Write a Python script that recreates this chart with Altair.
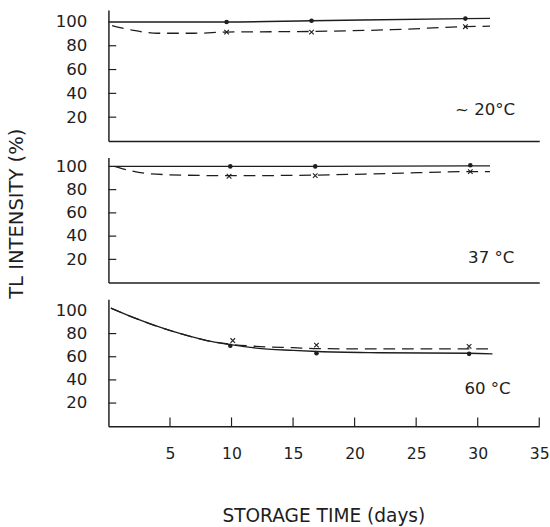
import altair as alt
import pandas as pd

# ---------------- data ----------------
X_TICKS = [5, 10, 15, 20, 25, 30, 35]
Y_TICKS = [20, 40, 60, 80, 100]
Y_INNER_TICKS = [20, 40, 60, 80]

# panel 1 : ~20 °C
p1_solid_day = [0, 9.6, 16.5, 29.0, 31.0]
p1_solid_val = [100, 100, 101, 102.8, 103]
p1_dash_day = [0.3, 2, 4, 7, 9.6, 16.5, 23, 29.0, 31.0]
p1_dash_val = [97, 93, 90.5, 90.5, 91.5, 92, 93.5, 96, 96.5]
p1_dot_day = [9.6, 16.5, 29.0]
p1_dot_val = [100, 101, 102.8]
p1_x_day = [9.6, 16.5, 29.0]
p1_x_val = [91.5, 91.5, 96]
p1_label = "~ 20°C"
p1_label_day = [30.6]
p1_label_val = [26]

# panel 2 : 37 °C
p2_solid_day = [0, 9.9, 16.8, 29.4, 31.0]
p2_solid_val = [100, 100, 100, 100.5, 100.5]
p2_dash_day = [0.5, 1.5, 3, 6, 9.8, 16.8, 23, 29.4, 31.0]
p2_dash_val = [100, 97, 94, 92.5, 92, 92.5, 94, 95.5, 95.5]
p2_dot_day = [9.9, 16.8, 29.4]
p2_dot_val = [100, 100, 101]
p2_x_day = [9.8, 16.8, 29.4]
p2_x_val = [91.5, 92, 95.5]
p2_label = "37 °C"
p2_label_day = [31.1]
p2_label_val = [21]

# panel 3 : 60 °C
p3_solid_day = [0.2, 2, 4.6, 6, 8, 9.9, 12, 15, 17, 22, 29.3, 31.2]
p3_solid_val = [102, 94, 84, 79.5, 74, 70.5, 67.5, 65.5, 64.5, 63.5, 63, 62.5]
p3_dash_day = [0.2, 2, 4.6, 6, 8, 9.9, 12, 15, 17, 22, 29.3, 31.0]
p3_dash_val = [102, 94, 84, 79.5, 74, 70.8, 69, 67.8, 67, 66.8, 66.8, 66.8]
p3_dot_day = [9.9, 16.9, 29.3]
p3_dot_val = [69.5, 63, 62.5]
p3_x_day = [10.1, 16.9, 29.3]
p3_x_val = [74, 70, 69]
p3_label = "60 °C"
p3_label_day = [30.8]
p3_label_val = [32]

X_TITLE = "STORAGE TIME (days)"
Y_TITLE = "TL INTENSITY (%)"

INK = "#1e1e1e"
FONT = "DejaVu Sans"
W = 441
X_MAX = 35
XPATH = "M-1,-1L1,1M-1,1L1,-1"


def panel(sd, sv, dd, dv, pd_, pv, xd, xv, label, ld, lv, height, ymax, bottom, ytitle):
    xs = alt.Scale(domain=[0, X_MAX], nice=False, zero=False)
    ys = alt.Scale(domain=[0, ymax], nice=False)

    if bottom:
        xaxis = alt.Axis(values=X_TICKS, ticks=False, grid=False, domain=True,
                         domainColor=INK, domainWidth=1.5, labelFont=FONT,
                         labelFontSize=16, labelColor=INK, labelPadding=20,
                         labelOverlap=False, labelFlush=False,
                         title=X_TITLE, titleFont=FONT, titleFontSize=19,
                         titleFontWeight="normal", titleColor=INK,
                         titlePadding=47, titleX=220)
    else:
        xaxis = alt.Axis(labels=False, ticks=False, grid=False, domain=True,
                         domainColor=INK, domainWidth=1.5, title=None)

    yargs = dict(values=Y_TICKS, ticks=False, grid=False, domain=True,
                 domainColor=INK, domainWidth=1.5, labelFont=FONT,
                 labelFontSize=17, labelColor=INK, labelPadding=22,
                 labelOverlap=False, labelFlush=False)
    if ytitle:
        yaxis = alt.Axis(title=Y_TITLE, titleFont=FONT, titleFontSize=20,
                         titleFontWeight="normal", titleColor=INK,
                         titlePadding=29, titleY=57, **yargs)
    else:
        yaxis = alt.Axis(title=None, **yargs)

    solid = pd.DataFrame({"day": sd, "val": sv})
    dash = pd.DataFrame({"day": dd, "val": dv})
    dots = pd.DataFrame({"day": pd_, "val": pv})
    crosses = pd.DataFrame({"day": xd, "val": xv})
    lab = pd.DataFrame({"day": ld, "val": lv, "t": [label]})
    yt = pd.DataFrame({"val": Y_INNER_TICKS})

    ex = alt.X("day:Q", scale=xs, axis=xaxis)
    ey = alt.Y("val:Q", scale=ys, axis=yaxis)

    l_solid = alt.Chart(solid).mark_line(color=INK, strokeWidth=1.4, interpolate="monotone").encode(
        x=ex, y=ey)
    l_dash = alt.Chart(dash).mark_line(color=INK, strokeWidth=1.3, strokeDash=[12, 7],
                                       interpolate="monotone").encode(x=ex, y=ey)
    l_dots = alt.Chart(dots).mark_point(filled=True, color=INK, size=22, opacity=1).encode(
        x=ex, y=ey)
    l_x = alt.Chart(crosses).mark_point(shape=XPATH, filled=False, color=INK, size=22,
                                        strokeWidth=1.1, opacity=1).encode(x=ex, y=ey)
    l_lab = alt.Chart(lab).mark_text(font=FONT, fontSize=17, color=INK, align="center").encode(
        x=ex, y=ey, text="t:N")
    l_yt = alt.Chart(yt).mark_rule(color=INK, strokeWidth=1.2).encode(
        y=ey, x=alt.value(0), x2=alt.value(8))

    layers = [l_solid, l_dash, l_dots, l_x, l_lab, l_yt]
    if bottom:
        xt = pd.DataFrame({"day": X_TICKS})
        l_xt = alt.Chart(xt).mark_rule(color=INK, strokeWidth=1.2).encode(
            x=ex, y=alt.value(height), y2=alt.value(height - 9))
        layers.append(l_xt)

    return alt.layer(*layers).properties(width=W, height=height)


p1 = panel(p1_solid_day, p1_solid_val, p1_dash_day, p1_dash_val, p1_dot_day, p1_dot_val,
           p1_x_day, p1_x_val, p1_label, p1_label_day, p1_label_val, 134, 110, False, False)
p2 = panel(p2_solid_day, p2_solid_val, p2_dash_day, p2_dash_val, p2_dot_day, p2_dot_val,
           p2_x_day, p2_x_val, p2_label, p2_label_day, p2_label_val, 128, 107.6, False, True)
p3 = panel(p3_solid_day, p3_solid_val, p3_dash_day, p3_dash_val, p3_dot_day, p3_dot_val,
           p3_x_day, p3_x_val, p3_label, p3_label_day, p3_label_val, 130, 109.7, True, False)

chart = alt.vconcat(p1, p2, p3, spacing=17, bounds="flush").properties(
    padding={"left": 7, "top": 4, "right": 0, "bottom": 0},
    background="white",
).configure_view(stroke=None).configure_axis(labelOverlap=False)

chart.save("out.html", embed_options={"renderer": "svg", "actions": False})
